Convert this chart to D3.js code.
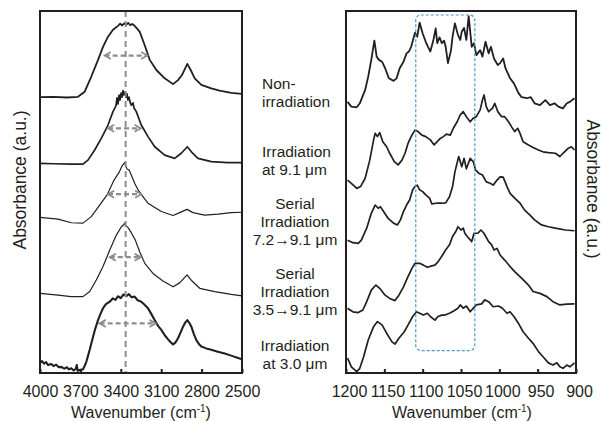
<!DOCTYPE html>
<html><head><meta charset="utf-8">
<script src="https://cdn.jsdelivr.net/npm/d3@7/dist/d3.min.js"></script>
<style>
body{margin:0;background:#fff}
text{font-family:Arial,"Liberation Sans",sans-serif;fill:#231f20}
</style>
</head><body>
<svg id="chart" width="602" height="421"></svg>
<script>
// ---------- DATA ----------
const sampleLabels = [
  ["Non-", "irradiation"],
  ["Irradiation", "at 9.1 μm"],
  ["Serial", "Irradiation", "7.2→9.1 μm"],
  ["Serial", "Irradiation", "3.5→9.1 μm"],
  ["Irradiation", "at 3.0 μm"]
];
const leftTicks = [4000, 3700, 3400, 3100, 2800, 2500];
const rightTicks = [1200, 1150, 1100, 1050, 1000, 950, 900];

// O–H / C–H region (wavenumber, stacked absorbance a.u.)
const ohNon = [[4000,76.2],[3900,76.3],[3800,76.1],[3718,76.3],[3668,77.7],[3619,81.9],[3569,86.5],[3532,90.1],[3495,92.9],[3458,94.8],[3421,95.9],[3405,96.5],[3390,96.0],[3375,96.6],[3361,96.2],[3345,96.7],[3330,96.1],[3315,96.4],[3297,95.9],[3260,94.3],[3223,90.6],[3185,86.5],[3136,83.7],[3074,81.4],[3012,79.8],[2975,80.9],[2946,82.3],[2906,85.4],[2881,83.7],[2851,81.4],[2802,79.6],[2728,78.6],[2666,78.0],[2579,77.4],[2500,77.1]];
const ohIrr91 = [[4000,57.9],[3900,57.8],[3768,57.7],[3681,57.7],[3644,58.8],[3594,61.6],[3545,64.8],[3495,68.5],[3458,72.2],[3436,73.8],[3428,76.0],[3421,74.3],[3413,76.8],[3406,75.4],[3398,77.3],[3391,76.2],[3384,78.0],[3376,76.8],[3369,77.6],[3361,76.2],[3354,77.1],[3347,75.4],[3339,76.2],[3332,74.9],[3322,74.0],[3309,74.6],[3302,73.2],[3285,72.2],[3248,68.5],[3198,65.3],[3148,62.5],[3074,60.2],[3000,59.3],[2951,60.7],[2906,62.5],[2876,61.1],[2827,59.3],[2728,58.4],[2604,58.1],[2500,58.1]];
const ohSer72 = [[4000,43.0],[3866,42.5],[3768,41.5],[3681,41.4],[3619,43.2],[3557,46.4],[3502,49.2],[3450,53.3],[3413,55.4],[3391,57.2],[3371,58.1],[3361,56.9],[3352,56.3],[3339,56.1],[3322,54.7],[3297,52.4],[3272,50.6],[3223,48.1],[3198,46.9],[3099,44.6],[3012,43.5],[2963,44.3],[2908,45.2],[2864,44.3],[2777,43.6],[2678,43.9],[2579,44.3],[2500,44.4]];
const ohSer35 = [[4000,22.0],[3866,21.5],[3768,21.1],[3681,21.1],[3631,22.5],[3582,25.7],[3532,29.4],[3482,34.0],[3433,38.1],[3396,40.4],[3380,40.9],[3371,41.4],[3362,40.6],[3352,40.4],[3340,39.8],[3326,39.0],[3292,36.7],[3260,33.5],[3222,30.3],[3161,27.5],[3087,25.4],[3012,23.8],[2963,24.9],[2908,27.1],[2871,25.4],[2814,23.4],[2703,22.5],[2579,21.7],[2500,21.3]];
const ohIrr30 = [[4000,2.8],[3985,3.3],[3970,2.6],[3955,3.0],[3940,2.2],[3916,2.5],[3900,1.9],[3880,2.3],[3860,1.6],[3842,1.7],[3820,1.2],[3800,1.6],[3785,1.0],[3768,1.3],[3750,0.7],[3735,1.1],[3727,2.2],[3720,0.6],[3700,0.9],[3681,1.0],[3668,2.0],[3656,3.1],[3643,4.8],[3631,6.4],[3618,8.3],[3606,10.0],[3590,12.2],[3569,14.6],[3550,16.4],[3532,17.9],[3510,19.0],[3482,19.7],[3460,20.6],[3440,20.2],[3421,21.2],[3400,20.7],[3380,21.7],[3359,21.2],[3340,21.8],[3320,20.9],[3297,21.1],[3275,20.1],[3248,19.7],[3225,18.9],[3198,17.9],[3175,16.4],[3148,14.6],[3125,13.1],[3099,11.9],[3075,10.5],[3049,9.3],[3030,8.5],[3012,7.9],[2995,8.4],[2975,9.6],[2955,11.3],[2938,12.8],[2920,14.0],[2906,14.6],[2890,13.8],[2876,12.8],[2858,10.8],[2839,9.1],[2820,8.0],[2802,7.3],[2765,6.8],[2728,6.4],[2680,5.9],[2628,5.4],[2580,4.8],[2540,4.3],[2500,3.8]];

// fingerprint region (wavenumber, stacked absorbance a.u.)
const fpNon = [[1198,74.9],[1193,73.6],[1186,73.4],[1182,74.5],[1175,78.2],[1171,81.9],[1167,86.5],[1163,91.8],[1160,87.4],[1157,86.5],[1153,86.0],[1149,84.2],[1144,81.4],[1138,80.7],[1134,81.4],[1130,84.2],[1125,86.0],[1121,88.3],[1118,88.8],[1115,90.1],[1112,92.5],[1110,94.0],[1107,92.9],[1104,96.8],[1100,93.8],[1096,91.5],[1093,90.1],[1090,88.8],[1086,92.0],[1083,95.2],[1081,91.1],[1078,92.7],[1075,91.1],[1072,91.8],[1070,90.1],[1067,85.6],[1063,89.2],[1061,92.9],[1058,96.6],[1054,93.4],[1051,92.0],[1049,94.3],[1046,95.3],[1043,92.0],[1040,98.6],[1036,90.1],[1033,91.1],[1030,87.8],[1025,89.2],[1022,87.4],[1018,91.5],[1014,88.3],[1011,90.1],[1007,86.9],[1002,85.1],[999,85.6],[995,86.9],[992,84.2],[986,81.4],[981,80.0],[975,77.3],[971,76.2],[964,75.9],[959,76.2],[954,74.5],[947,74.0],[940,75.4],[934,74.0],[928,74.5],[923,73.6],[917,73.1],[912,74.5],[908,74.9],[902,75.9]];
const fpIrr91 = [[1198,53.3],[1193,52.4],[1186,51.0],[1181,51.5],[1175,53.8],[1169,58.8],[1164,64.4],[1162,66.2],[1159,65.3],[1156,66.4],[1152,63.9],[1147,62.5],[1143,60.7],[1137,58.4],[1132,57.5],[1127,58.8],[1123,60.7],[1119,63.5],[1114,65.7],[1110,67.1],[1106,66.7],[1101,65.7],[1096,65.3],[1090,64.4],[1085,63.0],[1081,63.9],[1077,64.8],[1073,65.3],[1069,66.0],[1064,65.7],[1060,67.6],[1055,69.4],[1051,71.3],[1047,72.2],[1043,70.8],[1038,69.4],[1034,70.4],[1030,70.8],[1025,72.7],[1022,75.4],[1020,76.8],[1017,73.6],[1014,72.2],[1009,73.1],[1006,74.5],[1002,72.2],[997,70.8],[993,70.8],[988,69.4],[984,68.0],[980,66.7],[976,67.6],[973,66.2],[969,63.9],[962,63.0],[956,62.3],[949,61.6],[943,61.1],[936,60.9],[927,60.7],[921,59.8],[917,60.7],[910,62.1],[906,62.5],[902,61.6]];
const fpSer72 = [[1198,36.7],[1191,36.0],[1184,35.8],[1180,36.7],[1173,40.0],[1167,44.1],[1162,46.4],[1158,45.5],[1155,45.9],[1151,44.6],[1145,42.7],[1138,41.4],[1133,40.9],[1129,42.3],[1125,44.6],[1121,46.4],[1117,47.8],[1113,50.6],[1110,51.5],[1107,51.9],[1104,50.6],[1100,50.1],[1096,49.2],[1091,48.3],[1088,46.7],[1082,46.9],[1075,46.9],[1070,47.0],[1065,48.7],[1061,51.5],[1058,55.5],[1053,59.8],[1049,57.0],[1046,59.3],[1043,56.4],[1038,59.3],[1034,58.4],[1031,56.1],[1027,55.2],[1022,54.7],[1017,52.8],[1012,52.4],[1008,51.9],[1003,53.3],[999,54.2],[995,54.1],[990,51.5],[986,49.6],[980,48.3],[973,46.9],[967,45.0],[960,43.6],[954,42.3],[945,40.9],[936,40.4],[927,40.0],[914,39.5],[902,39.3]];
const fpSer35 = [[1198,17.9],[1191,16.9],[1184,16.7],[1178,17.4],[1173,19.7],[1167,22.9],[1161,24.3],[1156,23.4],[1149,21.5],[1143,20.6],[1136,20.0],[1131,21.5],[1125,23.8],[1120,26.2],[1114,28.9],[1110,30.3],[1104,30.3],[1099,29.8],[1094,29.2],[1088,29.6],[1084,29.8],[1080,30.7],[1074,32.6],[1070,34.0],[1065,35.4],[1061,37.7],[1057,39.0],[1054,40.4],[1050,39.5],[1047,40.0],[1045,38.6],[1041,37.5],[1036,36.3],[1033,38.6],[1028,38.6],[1024,39.5],[1020,38.6],[1014,36.3],[1010,35.4],[1007,34.0],[1003,34.4],[999,32.6],[993,31.2],[986,29.4],[980,28.0],[971,26.2],[962,24.3],[956,22.5],[947,22.0],[938,21.1],[930,19.7],[921,18.8],[912,19.0],[902,19.1]];
const fpIrr30 = [[1198,4.1],[1193,1.7],[1186,0.4],[1182,1.3],[1177,4.5],[1171,9.1],[1164,12.8],[1159,14.2],[1153,13.3],[1147,11.0],[1140,8.6],[1136,8.0],[1131,9.6],[1124,11.4],[1119,13.3],[1113,15.6],[1108,16.9],[1104,16.5],[1099,16.0],[1094,16.5],[1090,15.6],[1084,14.6],[1080,15.6],[1075,16.0],[1071,16.0],[1065,16.5],[1059,17.2],[1054,17.9],[1051,18.8],[1047,17.9],[1043,18.5],[1038,16.9],[1034,17.9],[1030,18.8],[1023,19.1],[1019,20.2],[1014,19.7],[1008,18.3],[1001,18.5],[996,17.9],[990,16.5],[986,16.9],[981,15.6],[975,13.7],[969,11.4],[962,9.6],[956,8.2],[949,5.9],[943,4.5],[936,2.8],[930,2.2],[925,2.8],[921,1.7],[917,1.3],[912,2.2],[908,1.7],[902,2.8]];

// width (FWHM) arrows of the O–H band: from, to, level
const fwhmFrom = [3520, 3495, 3495, 3482, 3557];
const fwhmTo   = [3203, 3252, 3248, 3252, 3141];
const fwhmLevel = [87.7, 67.6, 49.4, 32.0, 13.7];
const ohPeakCenter = 3364;
// highlighted band in fingerprint region
const boxRange = [1109, 1032];
const boxLevel = [6.2, 98.9];

// ---------- DRAW ----------
const svg = d3.select("#chart");
const y = d3.scaleLinear().domain([0, 100]).range([373, 11]);
const xL = d3.scaleLinear().domain([4000, 2500]).range([40, 242]);
const xR = d3.scaleLinear().domain([1200, 900]).range([346, 576]);
const ink = "#231f20", grayc = "#8d8d8d";

svg.append("defs").append("marker")
  .attr("id","ah").attr("viewBox","0 0 10 10").attr("refX",8).attr("refY",5)
  .attr("markerWidth",4).attr("markerHeight",4).attr("orient","auto-start-reverse")
  .attr("markerUnits","strokeWidth")
  .append("path").attr("d","M1,1 L8,5 L1,9").attr("fill","none")
  .attr("stroke",grayc).attr("stroke-width",2);

function panel(x, series, widths, ticks, labelShift) {
  const g = svg.append("g");
  const line = d3.line().x(d => x(d[0])).y(d => y(d[1])).curve(d3.curveLinear);
  series.forEach((s, i) => {
    g.append("path").datum(s).attr("d", line).attr("fill","none")
      .attr("stroke", ink).attr("stroke-width", widths[i]).attr("stroke-linejoin","round");
  });
  const ax = d3.axisBottom(x).tickValues(ticks).tickSizeInner(-4).tickSizeOuter(0)
    .tickPadding(13).tickFormat(d3.format("d"));
  const ag = g.append("g").attr("transform", `translate(0,${y(0)})`).call(ax);
  ag.select(".domain").remove();
  ag.selectAll("line").attr("stroke", ink).attr("stroke-width", 2);
  ag.selectAll("text").attr("font-size", 16).attr("fill", ink).attr("dx", labelShift)
    .style("font-family","Arial, 'Liberation Sans', sans-serif");
  return g;
}

const gl = panel(xL, [ohNon, ohIrr91, ohSer72, ohSer35, ohIrr30], [1.8, 1.7, 1.2, 1.2, 2.1], leftTicks, 0);
const gr = panel(xR, [fpNon, fpIrr91, fpSer72, fpSer35, fpIrr30], [1.8, 1.7, 1.7, 1.7, 1.7], rightTicks, 3);

// center line of O–H band
gl.append("line").attr("x1", xL(ohPeakCenter)).attr("x2", xL(ohPeakCenter))
  .attr("y1", y(100)).attr("y2", y(0)).attr("stroke", grayc).attr("stroke-width", 2)
  .attr("stroke-dasharray", "6,4");
// FWHM arrows
fwhmFrom.forEach((f, i) => {
  gl.append("line").attr("x1", xL(f)).attr("x2", xL(fwhmTo[i]))
    .attr("y1", y(fwhmLevel[i])).attr("y2", y(fwhmLevel[i]))
    .attr("stroke", grayc).attr("stroke-width", 2.2).attr("stroke-dasharray", "5,3")
    .attr("marker-start", "url(#ah)").attr("marker-end", "url(#ah)");
});

// highlight box
gr.append("rect").attr("x", xR(boxRange[0])).attr("y", y(boxLevel[1]))
  .attr("width", xR(boxRange[1]) - xR(boxRange[0])).attr("height", y(boxLevel[0]) - y(boxLevel[1]))
  .attr("rx", 5).attr("fill", "none").attr("stroke", "#4a9ac6").attr("stroke-width", 1.2)
  .attr("stroke-dasharray", "3,2");

// frames
[[xL, 4000, 2500], [xR, 1200, 900]].forEach(([x, a, b]) => {
  svg.append("rect").attr("x", x(a)).attr("y", y(100)).attr("width", x(b) - x(a))
    .attr("height", y(0) - y(100)).attr("fill", "none").attr("stroke", ink).attr("stroke-width", 2);
});

// axis titles
function xTitle(cx) {
  const t = svg.append("text").attr("x", cx).attr("y", 418).attr("text-anchor", "middle").attr("font-size", 16);
  t.append("tspan").text("Wavenumber (cm");
  t.append("tspan").text("-1").attr("font-size", 10).attr("dy", -6);
  t.append("tspan").text(")").attr("dy", 6);
}
xTitle(141); xTitle(462);
svg.append("text").attr("transform", "translate(26,180) rotate(-90)").attr("text-anchor", "middle")
  .attr("font-size", 17.5).text("Absorbance (a.u.)");
svg.append("text").attr("transform", "translate(587,189) rotate(90)").attr("text-anchor", "middle")
  .attr("font-size", 17.5).text("Absorbance (a.u.)");

// sample labels
const labelTop = [83, 151, 203, 273, 345];
const labelAnchor = ["start", "start", "middle", "middle", "middle"];
sampleLabels.forEach((lines, i) => {
  const t = svg.append("text").attr("font-size", 15.5).attr("text-anchor", labelAnchor[i]);
  lines.forEach((s, j) => {
    t.append("tspan").attr("x", labelAnchor[i] === "start" ? 262 : 295)
      .attr("y", labelTop[i] + 5.5 + j * 18.3).text(s);
  });
});
</script>
</body></html>
